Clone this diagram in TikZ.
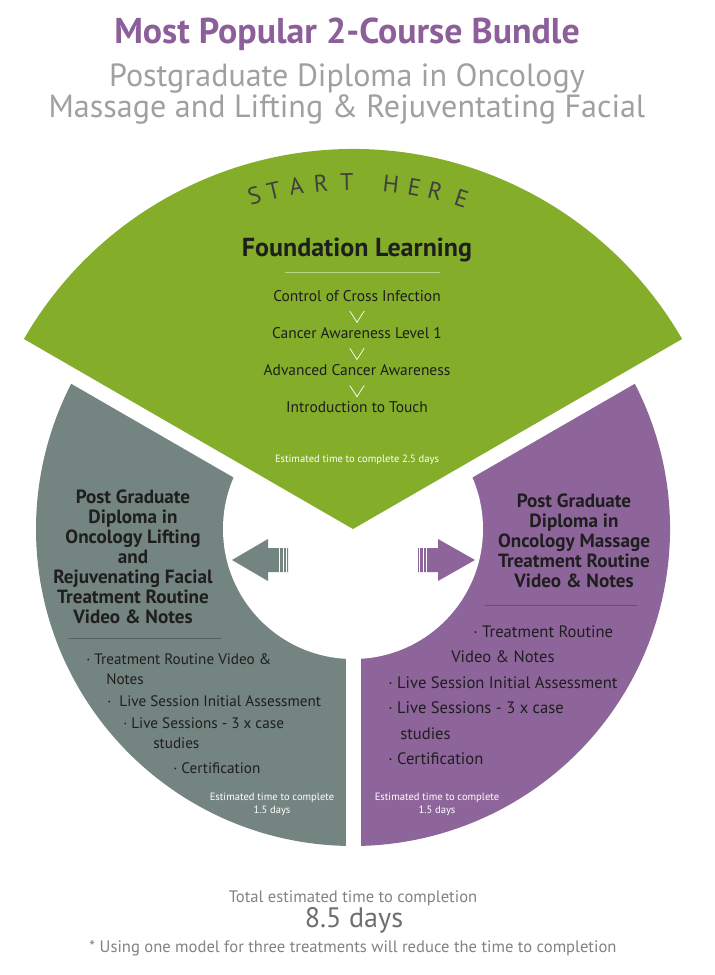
\documentclass[tikz,border=0pt]{standalone}
\usepackage{fontspec}
\setmainfont{PT Sans}
\usetikzlibrary{
  arrows.meta, % for the small open tips between the foundation steps
  calc, % to place the banner letters round the centre
  positioning, % for relative positioning of the foundation steps
}
\definecolor{leaf}{RGB}{132,174,42}
\definecolor{slate}{RGB}{116,132,128}
\definecolor{plum}{RGB}{142,101,155}
\definecolor{heading}{RGB}{140,95,155}
\definecolor{ink}{RGB}{30,30,30}
\definecolor{mist}{RGB}{160,160,160}
\definecolor{smoke}{RGB}{130,130,130}
\tikzset{
  headline/.style={ % the purple bundle title
    font=\bfseries\fontsize{25.5}{30}\selectfont, % large bold type
    text=heading, % purple lettering
  },
  subline/.style={ % the grey course names under the title
    font=\fontsize{22.8}{27}\selectfont,
    text=mist,
  },
  arcletter/.style={ % one letter of the curved banner
    font=\fontsize{17}{20}\selectfont,
    text=ink!85,
    anchor=base, % letters sit on the arc
    inner sep=0pt,
  },
  fhead/.style={ % heading of the green sector
    font=\bfseries\fontsize{18.5}{22}\selectfont,
    text=ink,
  },
  fstep/.style={ % one step of the foundation learning
    font=\fontsize{11}{13}\selectfont,
    text=ink,
    inner sep=0pt,
    text height=8pt, % same box for each step
    text depth=2pt,
    on grid, % distances are measured centre to centre
    node distance=0.93cm,
  },
  stepconn/.style={ % white chevron between two steps
    -{Straight Barb[color=white,length=0.28cm,width=0.36cm]},
    draw=leaf, % the line itself melts into the sector
    line width=0.5pt,
    shorten <=0.17cm,
    shorten >=0.1cm,
  },
  sidehead/.style={ % bold heading of a diploma sector
    font=\bfseries\fontsize{13.6}{14.2}\selectfont,
    text=ink,
    align=center,
  },
  sideitem/.style={ % one line of a diploma list
    font=\fontsize{10.8}{13}\selectfont,
    text=ink,
    anchor=west,
    inner sep=0pt,
  },
  sidenote/.style={ % small white time estimate
    font=\fontsize{7.5}{9.2}\selectfont,
    text=white,
    align=center,
  },
  footline/.style={ % grey text under the ring
    font=\fontsize{11.8}{14}\selectfont,
    text=smoke,
  },
}

\begin{document}
\begin{tikzpicture}[x=0.025cm,y=-0.025cm]
	\useasboundingbox (0,0) rectangle (715,975);
	\coordinate (ctr) at (353,529);

	% title
	\node[headline] (bundle) at (347,34) {Most Popular 2-Course Bundle};
	\node[subline] (sub1) at (347,78) {Postgraduate Diploma in Oncology};
	\node[subline] (sub2) at (347,109) {Massage and Lifting \& Rejuventating Facial};

	% the ring
	\fill[slate] (ctr) -- ++(90:317) arc (90:210:317) -- cycle;
	\fill[plum] (ctr) -- ++(-30:317) arc (-30:90:317) -- cycle;
	\fill[white] (ctr) circle (130);
	\draw[white,line width=0.375cm] (ctr) -- ++(90:330);
	\draw[white,line width=0.75cm] (ctr) -- ++(210:340) (ctr) -- ++(330:340);
	\fill[leaf] (ctr) -- ++(210:380) arc (210:330:380) -- cycle;

	% curved banner
	\foreach \ch/\ang in {S/106.5,T/103.2,A/99.4,R/95.3,T/91.0,H/83.7,E/79.8,R/76.3,E/71.8}
		\node[arcletter,rotate=\ang-90] at ($(ctr)+(-\ang:339)$) {\ch};

	% foundation learning
	\node[fhead] (found) at (357,250) {Foundation Learning};
	\draw[leaf!55!white,line width=0.6pt] (285,272) -- (440,272);
	\node[fstep] (s1) at (357,297) {Control of Cross Infection};
	\node[fstep,below=of s1] (s2) {Cancer Awareness Level 1};
	\node[fstep,below=of s2] (s3) {Advanced Cancer Awareness};
	\node[fstep,below=of s3] (s4) {Introduction to Touch};
	\draw[stepconn] (s1) -- (s2);
	\draw[stepconn] (s2) -- (s3);
	\draw[stepconn] (s3) -- (s4);
	\node[sidenote] (fest) at (357,460) {Estimated time to complete 2.5 days};

	% block arrows
	\fill[slate] (232,560) -- (268,539) -- (268,548) -- (288,548) -- (288,572) -- (268,572) -- (268,581) -- cycle;
	\fill[plum] (475,560) -- (438,539) -- (438,548) -- (418,548) -- (418,572) -- (438,572) -- (438,581) -- cycle;
	\foreach \sx in {279.5,283,286.5,419.5,423,426.5}
		\draw[white,line width=0.4pt] (\sx,548) -- (\sx,572);

	% facial diploma
	\node[sidehead] (facial) at (133,557) {Post Graduate\\Diploma in\\Oncology Lifting\\and\\Rejuvenating Facial\\Treatment Routine\\Video \& Notes};
	\draw[slate!75!black,line width=0.5pt] (68,638) -- (221,638);
	\node[sideitem] (fa1) at (86,659) {· Treatment Routine Video \&};
	\node[sideitem] (fa2) at (106,679) {Notes};
	\node[sideitem] (fa3) at (107,701) {·~~Live Session Initial Assessment};
	\node[sideitem] (fa4) at (123,723) {· Live Sessions - 3 x case};
	\node[sideitem] (fa5) at (153,743) {studies};
	\node[sideitem] (fa6) at (173,768) {· Certification};
	\node[sidenote] (faest) at (272,804) {Estimated time to complete\\1.5 days};

	% massage diploma
	\node[sidehead] (massage) at (574,541) {Post Graduate\\Diploma in\\Oncology Massage\\Treatment Routine\\Video \& Notes};
	\draw[plum!75!black,line width=0.5pt] (485,605) -- (637,605);
	\node[sideitem,font=\fontsize{11.8}{14}\selectfont] (ma1) at (473,632) {· Treatment Routine};
	\node[sideitem,font=\fontsize{11.8}{14}\selectfont] (ma2) at (451,657) {Video \& Notes};
	\node[sideitem,font=\fontsize{11.8}{14}\selectfont] (ma3) at (388,683) {· Live Session Initial Assessment};
	\node[sideitem,font=\fontsize{11.8}{14}\selectfont] (ma4) at (388,708) {· Live Sessions - 3 x case};
	\node[sideitem,font=\fontsize{11.8}{14}\selectfont] (ma5) at (400,734) {studies};
	\node[sideitem,font=\fontsize{11.8}{14}\selectfont] (ma6) at (388,759) {· Certification};
	\node[sidenote] (maest) at (437,804) {Estimated time to complete\\1.5 days};

	% totals
	\node[footline] (total) at (353,898) {Total estimated time to completion};
	\node[footline,font=\fontsize{20}{24}\selectfont,text=smoke!85!black] (days) at (354,920) {8.5 days};
	\node[footline] (note) at (353,948) {* Using one model for three treatments will reduce the time to completion};
\end{tikzpicture}
\end{document}
